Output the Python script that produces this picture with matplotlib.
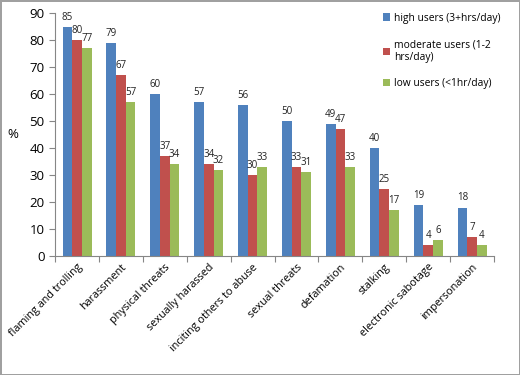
import numpy as np
import matplotlib.pyplot as plt

categories = ['flaming and trolling', 'harassment', 'physical threats', 'sexually harassed',
              'inciting others to abuse', 'sexual threats', 'defamation', 'stalking',
              'electronic sabotage', 'impersonation']
high = [85, 79, 60, 57, 56, 50, 49, 40, 19, 18]
moderate = [80, 67, 37, 34, 30, 33, 47, 25, 4, 7]
low = [77, 57, 34, 32, 33, 31, 33, 17, 6, 4]
series_names = ['high users (3+hrs/day)', 'moderate users (1-2\nhrs/day)', 'low users (<1hr/day)']
colors = ['#4F81BD', '#C0504D', '#9BBB59']

plt.rcParams['font.family'] = 'Open Sans'

fig = plt.figure(figsize=(5.2, 3.75), dpi=100, edgecolor='#a0a0a0', linewidth=2)
ax = fig.add_axes([0.106, 0.317, 0.844, 0.648])

x = np.arange(len(categories))
w = 0.22
for k, (vals, name, c) in enumerate(zip([high, moderate, low], series_names, colors)):
    bars = ax.bar(x + (k - 1) * w, vals, w, color=c, label=name)
    for b, v in zip(bars, vals):
        ax.text(b.get_x() + b.get_width() / 2, v + 1.5, str(v), ha='center', va='bottom',
                fontsize=7, color='#222222')

ax.set_xlim(-0.5, len(categories) - 0.5)
ax.set_ylim(0, 90)
ax.set_yticks(range(0, 91, 10))
ax.set_xticks(np.arange(-0.5, len(categories), 1.0))
ax.set_xticklabels([])
ax.set_xticks(x, minor=True)
ax.set_xticklabels(categories, minor=True, rotation=45, ha='right', rotation_mode='anchor', fontsize=7.8)
ax.tick_params(axis='x', which='minor', length=0, pad=4)
ax.tick_params(axis='x', which='major', length=4, color='#868686')
ax.tick_params(axis='y', length=4, color='#868686', labelsize=9.5)

for s in ['top', 'right']:
    ax.spines[s].set_visible(False)
for s in ['left', 'bottom']:
    ax.spines[s].set_color('#868686')

ax.set_ylabel('%', rotation=0, fontsize=9.5, labelpad=12, va='center')

ax.legend(loc='upper left', bbox_to_anchor=(0.725, 1.04), frameon=False, fontsize=7.4,
          handlelength=0.7, handleheight=0.7, handletextpad=0.4, labelspacing=1.5)

fig.savefig('out.png', dpi=100)
